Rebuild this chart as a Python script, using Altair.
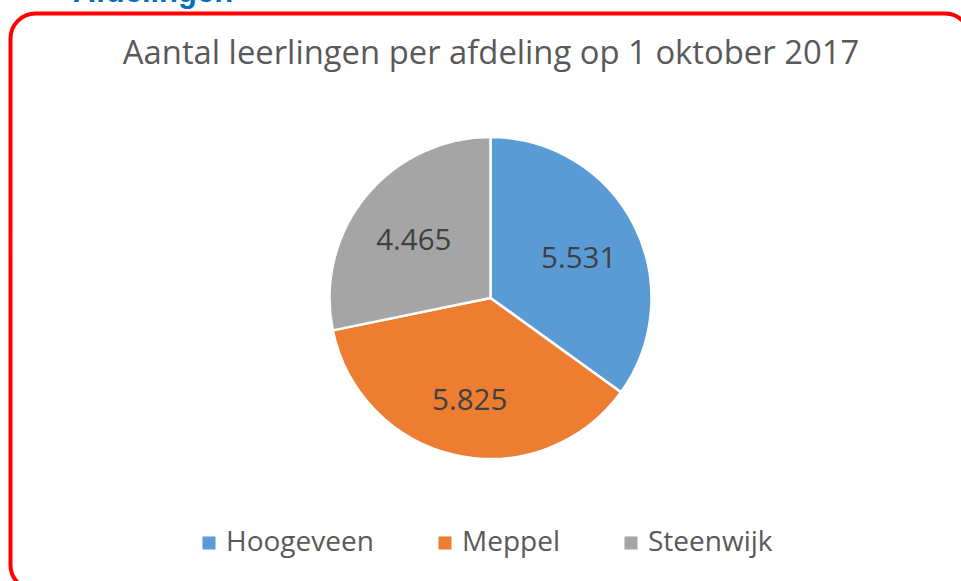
import altair as alt
import pandas as pd

afdelingen = ["Hoogeveen", "Meppel", "Steenwijk"]
aantallen = [5531, 5825, 4465]
labels = ["5.531", "5.825", "4.465"]
kleuren = ["#5B9BD5", "#ED7D31", "#A5A5A5"]
volgorde = [0, 1, 2]
titel = "Aantal leerlingen per afdeling op 1 oktober 2017"
kop = "Afdelingen"

FONT = "Open Sans"

df = pd.DataFrame({"afdeling": afdelingen, "aantal": aantallen,
                   "label": labels, "volgorde": volgorde})
one = pd.DataFrame({"k": [0]})

base = alt.Chart(df).encode(
    theta=alt.Theta("aantal:Q", stack=True),
    order=alt.Order("volgorde:Q"),
    x=alt.value(490.5),
    y=alt.value(298),
)

arcs = base.mark_arc(outerRadius=161, stroke="white", strokeWidth=2.5).encode(
    color=alt.Color(
        "afdeling:N",
        scale=alt.Scale(domain=afdelingen, range=kleuren),
        legend=alt.Legend(
            title=None, orient="none", direction="horizontal",
            legendX=195, legendY=529, symbolType="square", symbolSize=170,
            symbolStrokeWidth=0, labelFontSize=28, labelFont=FONT,
            labelColor="#595959", columnPadding=57, labelOffset=3,
        ),
    )
)

texts = base.mark_text(radius=99, dy=6, fontSize=29.5, font=FONT, color="#404040").encode(
    text="label:N"
)

frame = alt.Chart(one).mark_rect(
    fillOpacity=0, stroke="#FF0000", strokeWidth=4, cornerRadius=25
).encode(
    x=alt.value(10.5), x2=alt.value(970), y=alt.value(13.5), y2=alt.value(590)
)

title = alt.Chart(one).mark_text(
    text=titel, fontSize=32.8, font=FONT, color="#595959", align="center", baseline="middle"
).encode(x=alt.value(491), y=alt.value(54))

header = alt.Chart(one).mark_text(
    text=kop, fontSize=31, font="Liberation Sans", fontWeight="bold",
    color="#0070C0", align="left", baseline="alphabetic"
).encode(x=alt.value(73), y=alt.value(2))

chart = alt.layer(frame, header, title, arcs, texts).properties(
    width=961, height=581, autosize=alt.AutoSizeParams(type="none"), padding=0
).configure_view(stroke=None)

chart.save("out.html", embed_options={"renderer": "svg", "actions": False})
